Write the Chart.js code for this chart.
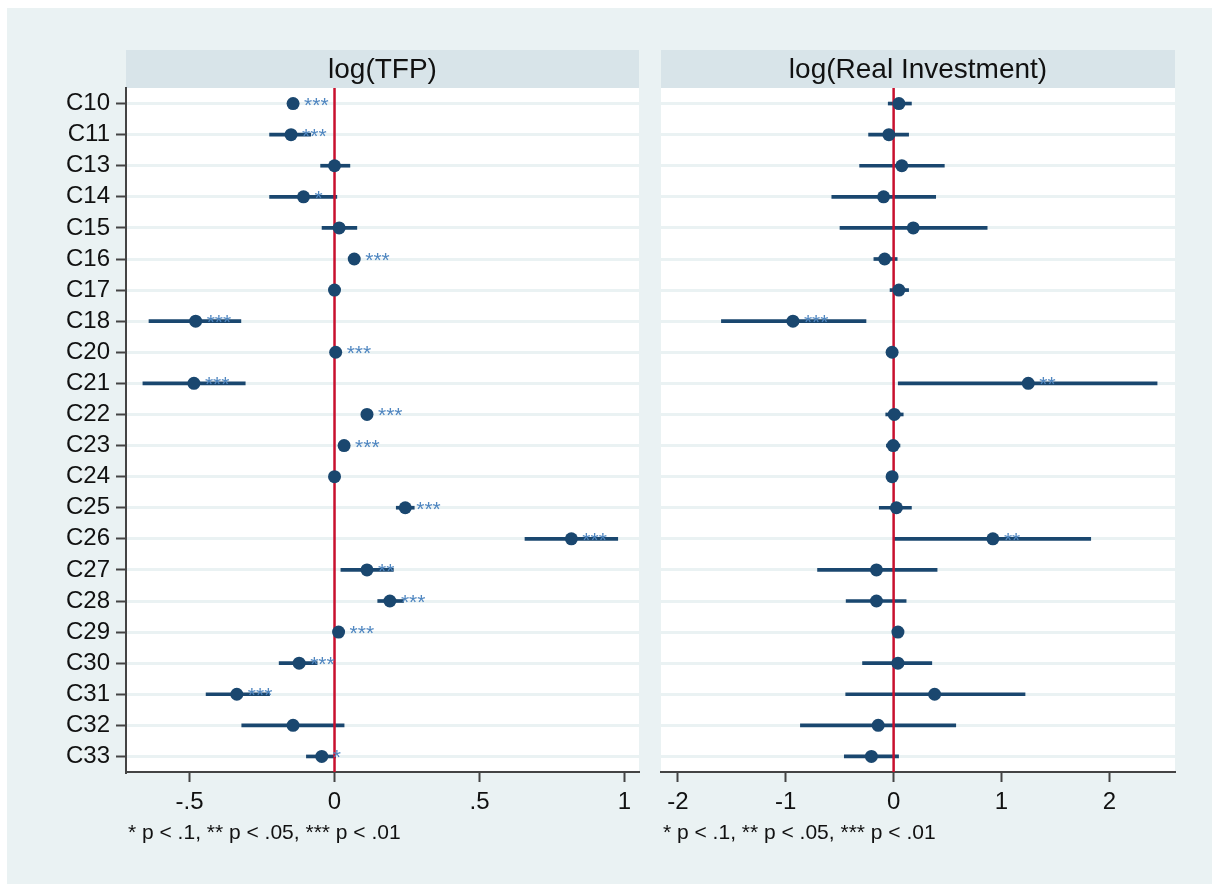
<!DOCTYPE html>
<html>
<head>
<meta charset="utf-8">
<title>coefplot</title>
<script src="https://cdn.jsdelivr.net/npm/chart.js"></script>
<style>
  html, body { margin: 0; padding: 0; background: #ffffff; }
  body { width: 1212px; height: 884px; position: relative; overflow: hidden; }
  #frame { position: absolute; left: 7px; top: 8px; right: 0; bottom: 0; background: #eaf2f3; }
  canvas { position: absolute; top: 0; }
  #left { left: 0; }
  #right { left: 650px; }
</style>
</head>
<body>
<div id="frame"></div>
<canvas id="left" width="650" height="884"></canvas>
<canvas id="right" width="562" height="884"></canvas>
<script>
  var categories = ["C10", "C11", "C13", "C14", "C15", "C16", "C17", "C18", "C20", "C21", "C22",
                    "C23", "C24", "C25", "C26", "C27", "C28", "C29", "C30", "C31", "C32", "C33"];

  // log(TFP)
  var tfpEst   = [-0.143, -0.150, 0.000, -0.107, 0.016, 0.068, 0.000, -0.479, 0.004, -0.485, 0.112,
                  0.033, 0.000, 0.244, 0.817, 0.112, 0.191, 0.014, -0.122, -0.337, -0.143, -0.044];
  var tfpLow   = [-0.155, -0.224, -0.048, -0.224, -0.043, 0.058, -0.006, -0.640, -0.004, -0.661, 0.102,
                  0.024, -0.006, 0.213, 0.657, 0.022, 0.149, 0.006, -0.191, -0.443, -0.320, -0.097];
  var tfpHigh  = [-0.131, -0.082, 0.053, 0.008, 0.077, 0.078, 0.006, -0.323, 0.012, -0.308, 0.122,
                  0.042, 0.006, 0.275, 0.977, 0.203, 0.238, 0.022, -0.060, -0.224, 0.033, 0.004];
  var tfpStars = ["***", "***", "", "*", "", "***", "", "***", "***", "***", "***",
                  "***", "", "***", "***", "**", "***", "***", "***", "***", "", "*"];

  // log(Real Investment)
  var invEst   = [0.049, -0.044, 0.076, -0.093, 0.182, -0.083, 0.049, -0.933, -0.014, 1.248, 0.006,
                  -0.004, -0.014, 0.026, 0.920, -0.159, -0.159, 0.040, 0.040, 0.380, -0.143, -0.206];
  var invLow   = [-0.050, -0.232, -0.315, -0.573, -0.497, -0.183, -0.033, -1.596, -0.040, 0.043, -0.073,
                  -0.067, -0.040, -0.133, 0.006, -0.705, -0.440, 0.015, -0.288, -0.444, -0.864, -0.457];
  var invHigh  = [0.165, 0.139, 0.470, 0.390, 0.867, 0.033, 0.139, -0.256, 0.012, 2.442, 0.089,
                  0.059, 0.012, 0.165, 1.827, 0.403, 0.116, 0.065, 0.354, 1.218, 0.576, 0.046];
  var invStars = ["", "", "", "", "", "", "", "***", "", "**", "",
                  "", "", "", "**", "", "", "", "", "", "", ""];

  var tfpTicks = [-0.5, 0, 0.5, 1];
  var tfpTickLabels = ["-.5", "0", ".5", "1"];
  var invTicks = [-2, -1, 0, 1, 2];
  var invTickLabels = ["-2", "-1", "0", "1", "2"];

  var noteText = "* p < .1, ** p < .05, *** p < .01";

  var FONT = "'Liberation Sans', Arial, sans-serif";
  var NAVY = "#1a476f";

  function makePanel(id, title, est, low, high, stars, xmin, xmax, ticks, tickLabels, showY, padLeft, padRight) {
    var ctx = document.getElementById(id).getContext("2d");

    var panelPlugin = {
      id: "panel",
      beforeDraw: function(chart) {
        var c = chart.ctx, a = chart.chartArea;
        c.save();
        c.fillStyle = "#ffffff";
        c.fillRect(a.left, a.top, a.right - a.left, a.bottom - a.top);
        // header band
        c.fillStyle = "#d8e4e9";
        c.fillRect(a.left, 50, a.right - a.left, a.top - 50);
        c.fillStyle = "#111111";
        c.font = "28px " + FONT;
        c.textAlign = "center";
        c.textBaseline = "middle";
        c.fillText(title, (a.left + a.right) / 2, 70);
        // note
        c.font = "21px " + FONT;
        c.textAlign = "left";
        c.fillText(noteText, a.left + 2, 833);
        c.restore();
      },
      afterDatasetDraw: function(chart, args) {
        if (args.meta.type !== "bar") return;
        var c = chart.ctx, a = chart.chartArea;
        var x0 = chart.scales.x.getPixelForValue(0);
        c.save();
        c.strokeStyle = "#c8102e";
        c.lineWidth = 2.5;
        c.beginPath();
        c.moveTo(x0, a.top);
        c.lineTo(x0, a.bottom);
        c.stroke();
        c.restore();
      },
      afterDatasetsDraw: function(chart) {
        var c = chart.ctx;
        c.save();
        c.fillStyle = "#4f86c0";
        c.font = "21px " + FONT;
        c.textAlign = "left";
        c.textBaseline = "alphabetic";
        for (var i = 0; i < categories.length; i++) {
          if (!stars[i]) continue;
          var px = chart.scales.x.getPixelForValue(est[i]);
          var py = chart.scales.y.getPixelForValue(i);
          c.fillText(stars[i], px + 11, py + 8);
        }
        c.restore();
      }
    };

    var ciData = [];
    var pointData = [];
    for (var i = 0; i < categories.length; i++) {
      ciData.push([low[i], high[i]]);
      pointData.push({ x: est[i], y: categories[i] });
    }

    return new Chart(ctx, {
      type: "bar",
      data: {
        labels: categories,
        datasets: [{
          type: "bar",
          data: ciData,
          backgroundColor: NAVY,
          borderWidth: 0,
          barThickness: 3,
          order: 2
        }, {
          type: "scatter",
          data: pointData,
          backgroundColor: NAVY,
          borderColor: NAVY,
          pointRadius: 6.5,
          pointBorderWidth: 0,
          order: 1
        }]
      },
      options: {
        indexAxis: "y",
        responsive: false,
        animation: false,
        devicePixelRatio: 1,
        layout: { padding: { left: padLeft, right: padRight, top: 88, bottom: 0 } },
        plugins: { legend: { display: false }, tooltip: { enabled: false } },
        scales: {
          x: {
            type: "linear",
            min: xmin,
            max: xmax,
            afterBuildTicks: function(scale) {
              scale.ticks = ticks.map(function(v) { return { value: v }; });
            },
            afterFit: function(scale) { scale.height = 112; },
            ticks: {
              padding: 6,
              autoSkip: false,
              color: "#111111",
              font: { family: FONT, size: 24 },
              maxRotation: 0,
              callback: function(value) { return tickLabels[ticks.indexOf(value)]; }
            },
            grid: {
              drawOnChartArea: false,
              drawTicks: true,
              tickLength: 10,
              tickColor: "#444444",
              tickWidth: 2
            },
            border: { display: true, color: "#444444", width: 2 }
          },
          y: {
            type: "category",
            labels: categories,
            offset: true,
            afterFit: function(scale) { scale.width = showY ? 126 : 0; },
            ticks: {
              display: showY,
              autoSkip: false,
              padding: 6,
              color: "#111111",
              font: { family: FONT, size: 24 }
            },
            grid: {
              offset: false,
              color: "#eaf2f3",
              lineWidth: 3,
              drawTicks: showY,
              tickLength: 10,
              tickColor: "#444444",
              tickWidth: 2
            },
            border: { display: showY, color: "#444444", width: 2 }
          }
        }
      },
      plugins: [panelPlugin]
    });
  }

  makePanel("left", "log(TFP)", tfpEst, tfpLow, tfpHigh, tfpStars,
            -0.7193, 1.0503, tfpTicks, tfpTickLabels, true, 0, 11);
  makePanel("right", "log(Real Investment)", invEst, invLow, invHigh, invStars,
            -2.156, 2.608, invTicks, invTickLabels, false, 11, 37);
</script>
</body>
</html>
